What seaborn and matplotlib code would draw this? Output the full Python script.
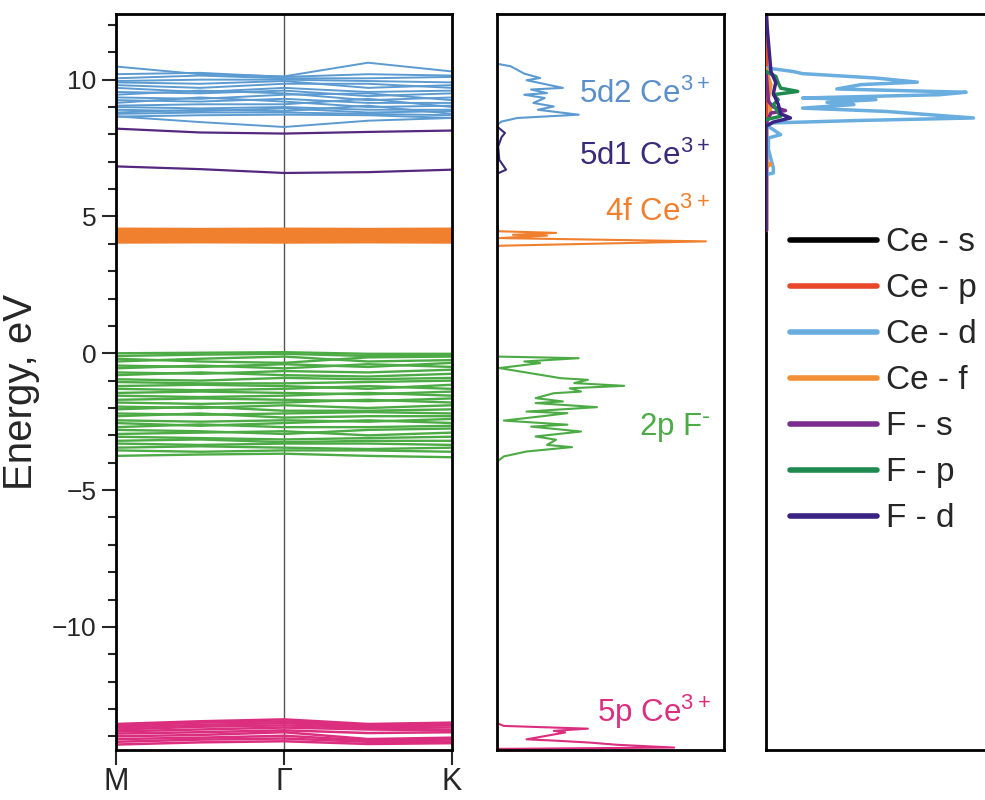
import numpy as np
import pandas as pd
import matplotlib as mpl
mpl.use("Agg")
import matplotlib.pyplot as plt
from matplotlib.ticker import MultipleLocator
import seaborn as sns

# k-path sample points: M, mid, Gamma, mid, K
k_path = [0.0, 0.5, 1.0, 1.5, 2.0]
k_labels = ["M", "Γ", "K"]

bands_5d2 = [
    [10.48, 10.20, 10.12, 10.62, 10.30],
    [10.20, 10.25, 10.10, 10.20, 10.15],
    [10.05, 10.15, 10.05, 10.05, 10.10],
    [9.95, 10.00, 10.00, 9.95, 9.90],
    [9.90, 9.85, 9.95, 9.70, 9.80],
    [9.80, 9.70, 9.85, 9.85, 9.70],
    [9.70, 9.55, 9.70, 9.55, 9.60],
    [9.55, 9.50, 9.60, 9.40, 9.50],
    [9.45, 9.60, 9.50, 9.25, 9.35],
    [9.35, 9.30, 9.45, 9.50, 9.25],
    [9.25, 9.20, 9.30, 9.15, 9.15],
    [9.15, 9.35, 9.20, 9.00, 9.05],
    [9.05, 9.10, 9.10, 9.30, 9.00],
    [9.00, 8.95, 9.00, 8.90, 8.90],
    [8.90, 8.85, 8.95, 8.80, 8.85],
    [8.80, 8.90, 8.85, 9.05, 8.75],
    [8.75, 8.80, 8.80, 8.75, 8.70],
    [8.65, 8.70, 8.72, 8.70, 8.60],
    [8.66, 8.45, 8.27, 8.50, 8.60],
]
bands_5d1 = [
    [8.21, 8.07, 8.03, 8.09, 8.14],
    [6.83, 6.73, 6.59, 6.62, 6.71],
]
bands_4f = [
    [4.53, 4.52, 4.53, 4.52, 4.53],
    [4.45, 4.46, 4.45, 4.44, 4.46],
    [4.38, 4.37, 4.38, 4.39, 4.37],
    [4.30, 4.31, 4.30, 4.30, 4.31],
    [4.23, 4.22, 4.23, 4.24, 4.22],
    [4.15, 4.16, 4.15, 4.15, 4.16],
    [4.07, 4.08, 4.07, 4.08, 4.07],
]
bands_2p = [
    [0.00, 0.02, 0.04, -0.02, -0.02],
    [-0.10, -0.05, -0.02, -0.10, -0.06],
    [-0.20, -0.30, -0.35, -0.15, -0.12],
    [-0.30, -0.20, -0.12, -0.30, -0.25],
    [-0.45, -0.50, -0.40, -0.50, -0.35],
    [-0.55, -0.45, -0.55, -0.40, -0.50],
    [-0.70, -0.75, -0.65, -0.70, -0.60],
    [-0.80, -0.70, -0.80, -0.85, -0.75],
    [-0.95, -1.00, -0.90, -0.95, -0.90],
    [-1.05, -1.10, -1.10, -1.05, -1.00],
    [-1.20, -1.15, -1.20, -1.30, -1.15],
    [-1.30, -1.35, -1.30, -1.20, -1.30],
    [-1.45, -1.40, -1.45, -1.50, -1.40],
    [-1.55, -1.60, -1.55, -1.45, -1.55],
    [-1.70, -1.65, -1.70, -1.75, -1.65],
    [-1.80, -1.85, -1.80, -1.70, -1.80],
    [-1.95, -2.00, -1.90, -2.00, -1.90],
    [-2.05, -1.95, -2.10, -2.10, -2.05],
    [-2.20, -2.25, -2.20, -2.15, -2.20],
    [-2.30, -2.20, -2.35, -2.30, -2.30],
    [-2.45, -2.50, -2.45, -2.50, -2.40],
    [-2.55, -2.65, -2.55, -2.45, -2.55],
    [-2.70, -2.60, -2.70, -2.70, -2.65],
    [-2.80, -2.85, -2.95, -2.80, -2.75],
    [-2.95, -2.90, -2.85, -3.00, -2.90],
    [-3.05, -3.10, -3.15, -3.10, -3.05],
    [-3.20, -3.15, -3.25, -3.20, -3.20],
    [-3.30, -3.35, -3.30, -3.30, -3.35],
    [-3.45, -3.40, -3.45, -3.50, -3.45],
    [-3.55, -3.60, -3.55, -3.55, -3.60],
    [-3.75, -3.70, -3.67, -3.75, -3.80],
]
bands_5p = [
    [-13.55, -13.45, -13.38, -13.55, -13.50],
    [-13.62, -13.50, -13.45, -13.60, -13.55],
    [-13.68, -13.58, -13.52, -13.65, -13.60],
    [-13.75, -13.65, -13.60, -13.70, -13.68],
    [-13.82, -13.75, -13.68, -13.75, -13.78],
    [-13.90, -13.85, -13.78, -13.88, -13.85],
    [-14.00, -13.95, -13.85, -14.10, -14.05],
    [-14.10, -14.05, -13.98, -14.15, -14.12],
    [-14.20, -14.12, -14.08, -14.20, -14.20],
    [-14.30, -14.22, -14.18, -14.28, -14.25],
]

# total DOS (middle panel): energy and arbitrary DOS value
dos_5d2_E = [10.58, 10.49, 10.22, 10.06, 9.98, 9.70, 9.64, 9.51, 9.45, 9.33, 9.15, 9.02, 8.90, 8.72, 8.60, 8.47, 8.35]
dos_5d2_v = [0.0, 0.06, 0.12, 0.19, 0.13, 0.29, 0.15, 0.22, 0.12, 0.21, 0.16, 0.25, 0.18, 0.36, 0.09, 0.02, 0.0]
dos_5d1_E = [8.29, 8.05, 7.90, 7.56, 7.07, 6.83, 6.71, 6.56]
dos_5d1_v = [0.0, 0.035, 0.02, 0.005, 0.01, 0.03, 0.04, 0.0]
dos_4f_E = [4.76, 4.46, 4.40, 4.33, 4.30, 4.21, 4.09, 3.93, 3.88]
dos_4f_v = [0.0, 0.005, 0.26, 0.07, 0.22, 0.01, 0.92, 0.01, 0.0]
dos_2p_E = [-0.12, -0.18, -0.30, -0.36, -0.54, -0.91, -0.97, -1.09, -1.19, -1.28, -1.40, -1.46, -1.64, -1.76, -1.82,
            -1.97, -2.13, -2.19, -2.31, -2.46, -2.61, -2.68, -2.86, -3.04, -3.16, -3.35, -3.43, -3.59, -3.77, -3.96]
dos_2p_v = [0.0, 0.36, 0.12, 0.19, 0.01, 0.28, 0.40, 0.34, 0.56, 0.32, 0.37, 0.25, 0.17, 0.29, 0.17,
            0.44, 0.13, 0.31, 0.19, 0.03, 0.31, 0.15, 0.37, 0.17, 0.26, 0.22, 0.33, 0.13, 0.03, 0.0]
dos_5p_E = [-13.52, -13.62, -13.72, -13.80, -13.86, -14.11, -14.16, -14.23, -14.31, -14.41, -14.46]
dos_5p_v = [0.0, 0.03, 0.40, 0.25, 0.30, 0.13, 0.26, 0.41, 0.53, 0.78, 0.0]

# partial DOS (right panel)
pdos_ce_s_E = [12.4, 4.5]
pdos_ce_s_v = [0.0, 0.0]
pdos_ce_p_E = [12.4, 4.5]
pdos_ce_p_v = [0.0, 0.0]
pdos_ce_d_E = [10.43, 10.30, 10.22, 10.06, 9.91, 9.82, 9.66, 9.54, 9.45, 9.33, 9.27, 9.17, 9.09, 8.96, 8.84, 8.60,
               8.51, 8.42, 8.35, 7.99, 7.87, 7.44, 6.77, 6.59, 6.53]
pdos_ce_d_v = [0.0, 0.11, 0.15, 0.45, 0.62, 0.39, 0.29, 0.82, 0.71, 0.15, 0.45, 0.25, 0.36, 0.15, 0.49, 0.85,
               0.39, 0.03, 0.0, 0.06, 0.01, 0.01, 0.03, 0.03, 0.0]
pdos_ce_f_E = [10.4, 9.8, 9.3, 8.8, 8.4, 7.0, 6.9, 6.8]
pdos_ce_f_v = [0.0, 0.02, 0.01, 0.02, 0.0, 0.0, 0.02, 0.0]
pdos_f_s_E = [10.3, 9.2, 9.0, 8.87, 8.78, 8.4]
pdos_f_s_v = [0.0, 0.01, 0.03, 0.08, 0.02, 0.0]
pdos_f_p_E = [10.30, 10.12, 9.88, 9.69, 9.57, 9.45, 9.27, 9.09, 8.66, 8.54]
pdos_f_p_v = [0.0, 0.04, 0.05, 0.06, 0.13, 0.03, 0.05, 0.03, 0.06, 0.0]
pdos_f_d_E = [12.4, 10.3, 9.9, 9.5, 9.1, 8.75, 8.6, 8.45, 8.3, 4.5]
pdos_f_d_v = [0.0, 0.02, 0.04, 0.03, 0.05, 0.06, 0.10, 0.03, 0.0, 0.0]

c_blue = "#5b9bd1"
c_purple = "#55287f"
c_orange = "#f07f2e"
c_green = "#4cab45"
c_pink = "#dc2e7f"

sns.set_theme(style="white")
plt.rcParams["font.family"] = ["Liberation Sans", "DejaVu Sans"]
plt.rcParams["mathtext.default"] = "regular"

ylim = (-14.5, 12.4)
fig = plt.figure(figsize=(9.85, 8), dpi=100)
ax1 = fig.add_axes([0.1178, 0.0625, 0.3411, 0.92])
ax2 = fig.add_axes([0.5046, 0.0625, 0.2305, 0.92])
ax3 = fig.add_axes([0.7777, 0.0625, 0.2477, 0.92])

# --- band structure
groups = [(bands_5d2, c_blue, 1.4), (bands_5d1, c_purple, 1.6), (bands_4f, c_orange, 2.6),
          (bands_2p, c_green, 1.7), (bands_5p, c_pink, 1.8)]
for bands, color, lw in groups:
    rows = []
    for i, b in enumerate(bands):
        for k, e in zip(k_path, b):
            rows.append({"k": k, "E": e, "band": i})
    df = pd.DataFrame(rows)
    sns.lineplot(data=df, x="k", y="E", units="band", estimator=None, sort=False,
                 color=color, lw=lw, legend=False, ax=ax1)
ax1.axvline(1.0, color="#555555", lw=1, zorder=0)
ax1.set_xlim(0, 2)
ax1.set_ylim(*ylim)
ax1.set_xticks([0, 1, 2])
ax1.set_xticklabels(k_labels, fontsize=22)
ax1.yaxis.set_major_locator(MultipleLocator(5))
ax1.yaxis.set_minor_locator(MultipleLocator(1))
ax1.tick_params(axis="y", which="major", left=True, direction="out", length=10, width=1.5, labelsize=19, pad=4)
ax1.tick_params(axis="y", which="minor", left=True, direction="out", length=6, width=1.5)
ax1.tick_params(axis="x", bottom=True, direction="out", length=11, width=1.5, pad=1)
ax1.set_xlabel("")
ax1.set_ylabel("Energy, eV", fontsize=29)
ax1.yaxis.set_label_coords(-0.226, 0.486)

# --- total DOS
dos_sets = [(dos_5d2_E, dos_5d2_v, c_blue), (dos_5d1_E, dos_5d1_v, "#3b2a7a"),
            (dos_4f_E, dos_4f_v, c_orange), (dos_2p_E, dos_2p_v, c_green), (dos_5p_E, dos_5p_v, c_pink)]
for E, v, color in dos_sets:
    sns.lineplot(x=v, y=E, sort=False, estimator=None, color=color, lw=1.5, ax=ax2)
ax2.set_xlim(0, 1)
ax2.set_ylim(*ylim)
ax2.set_xticks([])
ax2.set_yticks([])
labels = [("5d2 Ce$^{3+}$", 9.45, "#5b8fca"), ("5d1 Ce$^{3+}$", 7.2, "#3b2a7a"),
          ("4f Ce$^{3+}$", 5.15, c_orange), ("2p F$^{\\text{-}}$", -2.72, c_green),
          ("5p Ce$^{3+}$", -13.1, c_pink)]
for txt, e, color in labels:
    ax2.text(0.94, e, txt, color=color, fontsize=22.5, ha="right", va="center",
             transform=ax2.get_yaxis_transform())

# --- partial DOS
pdos_sets = [("Ce - s", pdos_ce_s_E, pdos_ce_s_v, "#000000"),
             ("Ce - p", pdos_ce_p_E, pdos_ce_p_v, "#e8472a"),
             ("Ce - d", pdos_ce_d_E, pdos_ce_d_v, "#6aaedf"),
             ("Ce - f", pdos_ce_f_E, pdos_ce_f_v, "#f39035"),
             ("F - s", pdos_f_s_E, pdos_f_s_v, "#7b2d8e"),
             ("F - p", pdos_f_p_E, pdos_f_p_v, "#1e8a50"),
             ("F - d", pdos_f_d_E, pdos_f_d_v, "#3b2383")]
for name, E, v, color in pdos_sets:
    sns.lineplot(x=v, y=E, sort=False, estimator=None, color=color, lw=2.5, label=name, ax=ax3)
ax3.set_xlim(0, 1)
ax3.set_ylim(*ylim)
ax3.set_xticks([])
ax3.set_yticks([])
ax3.legend(loc="upper left", bbox_to_anchor=(0.098, 0.71), frameon=False, fontsize=24,
           handlelength=2.6, handletextpad=0.27, labelspacing=0.45, borderaxespad=0, borderpad=0)
for leg_line in ax3.get_legend().get_lines():
    leg_line.set_linewidth(4)

for ax in (ax1, ax2, ax3):
    for s in ax.spines.values():
        s.set_color("black")
        s.set_linewidth(2)
ax3.spines["left"].set_zorder(0)

fig.savefig("out.png", dpi=100)
